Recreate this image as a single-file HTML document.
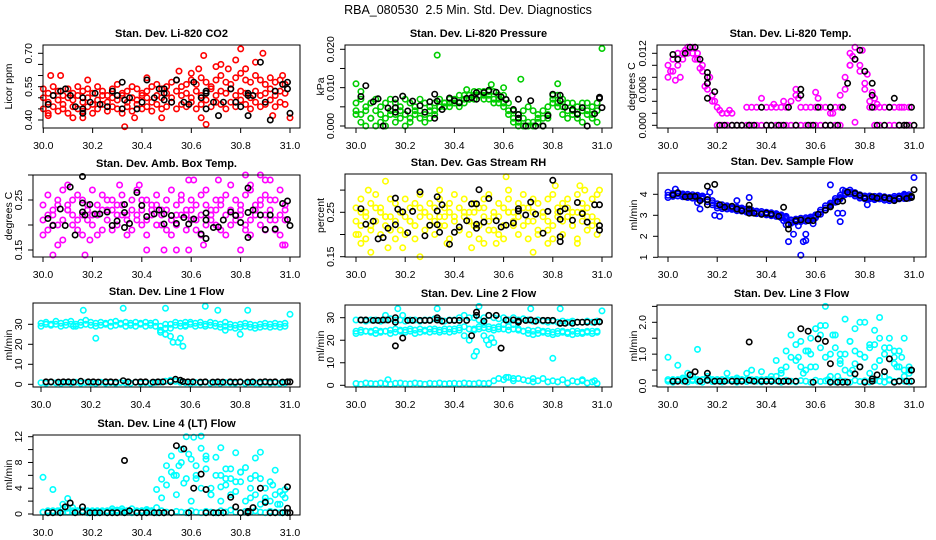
<!DOCTYPE html>
<html><head><meta charset="utf-8"><style>
html,body{margin:0;padding:0;background:#fff;}
svg{display:block;font-family:"Liberation Sans",Arial,sans-serif;}
</style></head><body>
<svg id="chart" width="936" height="540" viewBox="0 0 936 540" xmlns="http://www.w3.org/2000/svg">
<text x="468" y="14" text-anchor="middle" font-size="12.5">RBA_080530 &#160;2.5 Min. Std. Dev. Diagnostics</text>
</svg>
<script>
// shared sample times
const bandTimes = [30.00,30.02,30.04,30.06,30.08,30.10,30.12,30.14,30.16,30.18,30.20,30.22,30.24,30.26,30.28,30.30,30.32,30.34,30.36,30.38,30.40,30.42,30.44,30.46,30.48,30.50,30.52,30.54,30.56,30.58,30.60,30.62,30.64,30.66,30.68,30.70,30.72,30.74,30.76,30.78,30.80,30.82,30.84,30.86,30.88,30.90,30.92,30.94,30.96,30.98];
const blackTimes = [30.02,30.04,30.07,30.09,30.11,30.13,30.16,30.19,30.21,30.23,30.26,30.28,30.30,30.33,30.35,30.38,30.40,30.42,30.45,30.47,30.49,30.52,30.54,30.57,30.59,30.61,30.64,30.66,30.69,30.71,30.73,30.76,30.78,30.80,30.83,30.85,30.88,30.90,30.92,30.94,30.97,30.99];

// Panel 1 CO2
const co2A = [0.54,0.52,0.55,0.53,0.51,0.54,0.52,0.55,0.53,0.54,0.52,0.55,0.53,0.51,0.54,0.56,0.52,0.53,0.55,0.54,0.52,0.53,0.55,0.56,0.54,0.55,0.57,0.58,0.55,0.56,0.58,0.56,0.59,0.57,0.55,0.58,0.60,0.57,0.56,0.59,0.61,0.58,0.57,0.60,0.58,0.56,0.59,0.57,0.58,0.56];
const co2B = [0.50,0.48,0.51,0.49,0.47,0.50,0.49,0.51,0.48,0.50,0.47,0.49,0.51,0.48,0.50,0.49,0.51,0.48,0.50,0.49,0.51,0.50,0.48,0.51,0.50,0.52,0.50,0.53,0.51,0.52,0.50,0.53,0.51,0.52,0.54,0.51,0.53,0.52,0.54,0.51,0.53,0.52,0.50,0.53,0.51,0.52,0.54,0.51,0.53,0.52];
const co2C = [0.45,0.43,0.46,0.44,0.45,0.43,0.46,0.45,0.44,0.46,0.43,0.45,0.47,0.44,0.46,0.45,0.43,0.46,0.44,0.47,0.45,0.46,0.44,0.47,0.45,0.46,0.48,0.45,0.47,0.46,0.48,0.45,0.47,0.49,0.46,0.48,0.47,0.45,0.48,0.46,0.49,0.47,0.45,0.48,0.46,0.47,0.49,0.46,0.48,0.47];
const co2Out = [[30.02,0.42],[30.03,0.60],[30.07,0.60],[30.16,0.41],[30.18,0.58],[30.33,0.37],[30.37,0.41],[30.42,0.59],[30.48,0.41],[30.55,0.62],[30.60,0.61],[30.63,0.63],[30.65,0.69],[30.66,0.38],[30.70,0.64],[30.72,0.65],[30.75,0.63],[30.78,0.67],[30.80,0.72],[30.82,0.63],[30.86,0.66],[30.89,0.70],[30.93,0.42],[30.97,0.60],[31.0,0.41],[30.64,0.41],[30.12,0.41]];
const co2Black = [0.47,0.51,0.53,0.54,0.51,0.46,0.45,0.48,0.52,0.47,0.46,0.53,0.51,0.49,0.50,0.45,0.48,0.58,0.50,0.54,0.52,0.48,0.58,0.48,0.47,0.57,0.50,0.53,0.48,0.42,0.48,0.54,0.48,0.46,0.52,0.51,0.66,0.48,0.40,0.53,0.56,0.57];
const co2BlackX = [[30.16,0.43],[30.16,0.50],[30.32,0.57],[30.32,0.45],[30.49,0.49],[30.49,0.54],[30.66,0.45],[30.66,0.52],[30.83,0.42],[30.83,0.51],[30.99,0.54],[31.0,0.43]];

// Panel 2 Pressure
const presA = [0.006,0.007,0.005,0.006,0.007,0.005,0.006,0.007,0.006,0.005,0.007,0.006,0.005,0.007,0.006,0.005,0.006,0.007,0.006,0.007,0.007,0.008,0.008,0.008,0.009,0.009,0.009,0.009,0.009,0.008,0.008,0.006,0.004,0.003,0.004,0.005,0.004,0.003,0.004,0.005,0.008,0.008,0.007,0.006,0.006,0.005,0.006,0.006,0.005,0.006];
const presB = [0.004,0.003,0.004,0.002,0.004,0.003,0.002,0.004,0.003,0.004,0.003,0.002,0.004,0.004,0.003,0.002,0.004,0.005,0.005,0.006,0.006,0.006,0.007,0.007,0.008,0.008,0.008,0.008,0.007,0.007,0.006,0.004,0.002,0.001,0.002,0.001,0.001,0.002,0.002,0.003,0.007,0.006,0.005,0.004,0.004,0.003,0.004,0.004,0.003,0.004];
const presC = [0.003,0.001,0.000,0.002,0.000,0.001,0.000,0.003,0.001,0.002,0.000,0.001,0.003,0.002,0.001,0.004,0.003,0.005,0.006,0.005,0.006,0.005,0.006,0.007,0.007,0.008,0.007,0.007,0.006,0.006,0.005,0.003,0.001,0.000,0.000,0.000,0.000,0.001,0.000,0.002,0.006,0.005,0.003,0.002,0.003,0.002,0.001,0.003,0.002,0.001];
const presOut = [[30.0,0.011],[30.33,0.0185],[30.67,0.0122],[31.0,0.0202],[30.55,0.0108],[30.82,0.0110],[30.45,0.0095],[30.6,0.010],[30.02,0.009]];
const presBlack = [0.0077,0.0105,0.0063,0.0071,0.0000,0.0047,0.0070,0.0078,0.0039,0.0065,0.0053,0.0036,0.0063,0.0065,0.0043,0.0073,0.0066,0.0061,0.0072,0.0074,0.0070,0.0087,0.0093,0.0088,0.0076,0.0069,0.0043,0.0070,0.0000,0.0066,0.0000,0.0000,0.0027,0.0083,0.0066,0.0049,0.0043,0.0031,0.0048,0.0000,0.0032,0.0075];
const presBlackX = [[30.16,0.0036],[30.16,0.0048],[30.32,0.0083],[30.32,0.0020],[30.49,0.0087],[30.66,0.0030],[30.66,0.0020],[30.83,0.0080],[30.99,0.0072],[31.0,0.0048]];

// Panel 3 Temp
const tempHi = [0.010,0.011,0.012,0.012,0.013,0.013,0.012,0.010,0.007,0.005,0.003,0.002,0.002,0.002,null,null,0.003,0.003,0.003,null,0.003,0.003,0.003,0.003,0.003,0.004,0.005,0.003,0.003,0.003,0.003,0.003,0.003,0.002,0.003,0.005,0.008,0.012,0.013,0.010,0.007,0.004,0.003,0.003,0.003,0.003,0.003,0.003,0.003,0.003];
const tempLo = [0.008,0.009,0.010,0.011,0.012,0.012,0.011,0.009,0.006,0.004,0.000,0.000,0.000,0.000,0.000,0.000,0.000,0.000,0.000,0.000,0.000,0.000,0.000,0.000,0.000,0.000,0.000,0.000,0.000,0.000,0.000,0.000,0.000,0.000,0.000,0.000,0.006,0.010,0.011,0.009,0.006,0.003,0.000,0.000,null,0.000,0.000,0.000,0.000,0.000];
const tempOut = [[30.01,0.009],[30.03,0.0075],[30.05,0.008],[30.07,0.0125],[30.11,0.011],[30.13,0.0095],[30.15,0.0065],[30.17,0.008],[30.19,0.004],[30.21,0.0025],[30.25,0.0025],[30.38,0.0045],[30.43,0.0035],[30.47,0.004],[30.52,0.006],[30.53,0.0045],[30.60,0.0055],[30.61,0.0045],[30.67,0.002],[30.70,0.003],[30.74,0.010],[30.75,0.0115],[30.79,0.0125],[30.81,0.0085],[30.83,0.0055],[30.84,0.0045],[30.85,0.0035],[30.76,0.0005],[30.95,0.003]];
const tempBlack = [0.0118,0.0110,0.0120,0.0130,0.0130,0.0110,0.0088,0.0056,0.0000,0.0000,0.0000,0.0000,0.0000,0.0000,0.0000,0.0030,0.0000,0.0000,0.0000,0.0000,0.0030,0.0000,0.0060,0.0000,0.0000,0.0030,0.0000,0.0000,0.0000,0.0030,0.0070,0.0110,0.0125,0.0090,0.0030,0.0000,0.0000,0.0030,0.0045,0.0000,0.0000,0.0030];
const tempBlackX = [[30.16,0.0080],[30.16,0.0070],[30.16,0.0045],[30.33,0.0],[30.54,0.005],[30.66,0.003],[30.71,0.003],[30.83,0.007],[30.83,0.005],[30.96,0.0],[31.0,0.0]];

// Panel 4 Amb box temp
const ambA = [0.24,0.26,0.23,0.25,0.27,0.24,0.22,0.26,0.25,0.23,0.27,0.24,0.26,0.23,0.25,0.24,0.26,0.22,0.25,0.27,0.23,0.25,0.24,0.26,0.23,0.25,0.27,0.24,0.26,0.22,0.25,0.24,0.26,0.27,0.23,0.25,0.24,0.26,0.28,0.25,0.23,0.26,0.27,0.24,0.25,0.26,0.23,0.25,0.27,0.24];
const ambB = [0.21,0.19,0.22,0.20,0.21,0.23,0.20,0.19,0.22,0.21,0.20,0.22,0.19,0.21,0.23,0.20,0.22,0.21,0.19,0.22,0.20,0.21,0.23,0.20,0.22,0.19,0.21,0.20,0.22,0.23,0.21,0.19,0.22,0.20,0.21,0.23,0.19,0.22,0.20,0.21,0.22,0.19,0.21,0.23,0.20,0.22,0.21,0.19,0.22,0.21];
const ambC = [0.18,0.22,0.20,0.24,0.17,0.23,0.25,0.21,0.18,0.24,0.22,0.18,0.23,0.25,0.19,0.22,0.24,0.18,0.23,0.21,0.25,0.18,0.22,0.24,0.20,0.23,0.18,0.22,0.25,0.19,0.23,0.21,0.18,0.24,0.22,0.20,0.25,0.18,0.23,0.22,0.24,0.20,0.18,0.22,0.24,0.19,0.25,0.21,0.18,0.23];
const ambOut = [[30.04,0.14],[30.06,0.16],[30.10,0.28],[30.17,0.14],[30.19,0.17],[30.31,0.28],[30.39,0.28],[30.42,0.15],[30.49,0.15],[30.54,0.15],[30.59,0.15],[30.59,0.29],[30.61,0.29],[30.65,0.16],[30.71,0.29],[30.80,0.15],[30.82,0.30],[30.88,0.30],[30.90,0.29],[30.92,0.29],[30.98,0.16],[30.97,0.16],[30.84,0.28]];
const ambBlack = [0.213,0.199,0.232,0.199,0.276,0.180,0.244,0.241,0.222,0.222,0.226,0.199,0.208,0.225,0.203,0.265,0.239,0.217,0.222,0.230,0.202,0.219,0.203,0.215,0.202,0.212,0.182,0.224,0.195,0.196,0.210,0.226,0.219,0.205,0.225,0.230,0.220,0.191,0.220,0.192,0.243,0.248];
const ambBlackX = [[30.16,0.297],[30.16,0.226],[30.17,0.220],[30.33,0.241],[30.33,0.195],[30.49,0.222],[30.66,0.210],[30.66,0.173],[30.83,0.274],[30.83,0.175],[30.99,0.211],[31.0,0.199]];

// Panel 5 Gas stream RH
const rhA = [0.26,0.28,0.25,0.27,0.29,0.26,0.24,0.28,0.27,0.25,0.28,0.26,0.27,0.29,0.25,0.27,0.26,0.28,0.24,0.27,0.29,0.26,0.28,0.25,0.27,0.26,0.28,0.29,0.25,0.27,0.26,0.28,0.25,0.27,0.29,0.26,0.28,0.27,0.25,0.28,0.29,0.26,0.27,0.28,0.25,0.29,0.27,0.26,0.28,0.29];
const rhB = [0.23,0.22,0.24,0.21,0.23,0.25,0.22,0.24,0.23,0.21,0.24,0.23,0.22,0.24,0.25,0.22,0.23,0.24,0.22,0.25,0.23,0.21,0.24,0.23,0.25,0.22,0.24,0.23,0.21,0.24,0.22,0.25,0.23,0.24,0.22,0.23,0.25,0.21,0.24,0.23,0.22,0.25,0.23,0.24,0.22,0.25,0.23,0.24,0.22,0.23];
const rhC = [0.20,0.25,0.19,0.22,0.26,0.20,0.24,0.21,0.19,0.25,0.20,0.23,0.19,0.26,0.21,0.24,0.20,0.22,0.26,0.19,0.24,0.21,0.25,0.20,0.22,0.19,0.26,0.21,0.24,0.20,0.19,0.25,0.22,0.20,0.26,0.19,0.23,0.20,0.25,0.21,0.19,0.24,0.20,0.26,0.22,0.19,0.25,0.21,0.24,0.20];
const rhOut = [[30.01,0.20],[30.02,0.18],[30.05,0.30],[30.06,0.16],[30.12,0.32],[30.13,0.17],[30.19,0.17],[30.26,0.15],[30.34,0.30],[30.37,0.18],[30.47,0.17],[30.52,0.18],[30.57,0.18],[30.61,0.33],[30.62,0.30],[30.72,0.16],[30.78,0.18],[30.81,0.31],[30.91,0.31],[30.90,0.18],[30.99,0.30],[30.93,0.30]];
const rhBlack = [0.258,0.223,0.230,0.190,0.193,0.214,0.282,0.251,0.204,0.252,0.296,0.197,0.221,0.253,0.267,0.178,0.205,0.217,0.231,0.269,0.269,0.228,0.281,0.231,0.217,0.221,0.226,0.253,0.244,0.273,0.246,0.203,0.252,0.322,0.234,0.258,0.232,0.272,0.247,0.228,0.267,0.267];
const rhBlackX = [[30.16,0.222],[30.17,0.257],[30.33,0.285],[30.33,0.222],[30.34,0.205],[30.49,0.223],[30.49,0.214],[30.50,0.301],[30.66,0.258],[30.83,0.252],[30.83,0.195],[30.83,0.184],[30.99,0.220],[30.99,0.210]];

// Panel 6 Sample flow
const flowA = [3.95,3.98,4.02,3.95,3.92,3.90,3.88,3.85,3.75,3.60,3.45,3.40,3.38,3.35,3.30,3.28,3.22,3.18,3.12,3.10,3.08,3.05,3.02,2.95,2.88,2.70,2.75,2.78,2.80,2.85,2.95,3.15,3.35,3.50,3.70,3.85,4.05,4.10,4.00,3.90,3.85,3.85,3.82,3.85,3.80,3.78,3.82,3.85,3.88,3.90];
const flowB = [3.85,3.90,3.92,3.88,3.85,3.82,3.80,3.78,3.65,3.50,3.35,3.32,3.30,3.28,3.22,3.20,3.15,3.12,3.08,3.05,3.02,2.98,2.95,2.88,2.80,2.62,2.68,2.70,2.72,2.78,2.88,3.05,3.25,3.42,3.62,3.78,3.98,4.02,3.92,3.82,3.78,3.78,3.75,3.78,3.72,3.70,3.75,3.78,3.80,3.82];
const flowC = [4.10,4.05,4.08,4.02,4.00,3.98,3.95,3.92,3.88,3.70,3.55,3.50,3.45,3.42,3.38,3.35,3.30,3.25,3.20,3.18,3.15,3.12,3.08,3.02,2.95,2.78,2.82,2.86,2.88,2.92,3.02,3.25,3.45,3.58,3.80,3.95,4.15,4.20,4.08,3.98,3.92,3.92,3.90,3.92,3.88,3.85,3.90,3.92,3.95,3.98];
const flowOut = [[30.03,4.25],[30.12,3.6],[30.13,3.3],[30.17,4.1],[30.19,3.0],[30.21,2.95],[30.28,3.7],[30.33,3.85],[30.47,2.75],[30.48,2.55],[30.49,1.75],[30.51,2.1],[30.53,2.5],[30.54,1.1],[30.55,1.75],[30.56,2.1],[30.56,1.8],[30.59,2.6],[30.66,4.45],[30.69,3.1],[30.70,2.7],[30.71,3.1],[30.71,4.2],[30.81,3.5],[31.0,4.8],[30.96,4.0]];
const flowBlack = [3.97,4.07,3.88,3.90,3.90,3.70,3.75,4.47,3.50,3.38,3.43,3.30,3.22,3.30,3.10,3.05,3.10,3.05,2.95,3.38,2.55,2.75,2.78,2.75,2.75,3.05,3.25,3.40,3.65,3.68,4.10,4.05,3.95,3.82,3.88,3.82,3.85,3.80,3.70,3.80,3.80,3.85];
const flowBlackX = [[30.16,3.50],[30.16,4.38],[30.33,3.48],[30.33,3.10],[30.49,2.35],[30.66,3.42],[30.99,3.90],[31.0,4.22]];

// Panel 7 Line 1
const l1A = [30.5,31,30,31.5,30.5,31,31.5,30,31,32,31,30.5,31,30.5,31,31.5,30.5,31,30.5,31,30.5,31,30.5,31,29,28,30,31,30.5,31,31,30.5,31,30,31,30.5,30,31,30,29.5,30,30.5,30,29.5,30,30.5,30,30.5,30,30.5];
const l1B = [29,30,29.5,30,29,29.5,30,29,29.5,30,29.5,29,29.5,30,29,29.5,30,29,29.5,29,30,29,29.5,29,27,25,28,29.5,29,29.5,30,29,29.5,29,29.5,29,28.5,29,28.5,28,28.5,29,28.5,28,28.5,29,28.5,29,28.5,29];
const l1Low = [0.8,0.5,1,0.7,0.5,0.9,0.6,1,0.5,0.8,0.7,0.5,1,0.6,0.8,0.5,0.9,0.7,0.5,1,0.6,0.8,0.5,0.9,1,1.5,2,1.5,1,0.8,0.5,0.9,0.7,1,0.6,0.8,0.5,0.9,0.7,0.6,1,0.5,0.8,0.7,0.5,0.9,0.6,0.8,0.5,0.7];
const l1Out = [[30.13,29],[30.17,37],[30.22,23],[30.33,38],[30.48,26],[30.50,38],[30.50,25],[30.52,24],[30.53,21],[30.55,21],[30.56,23],[30.57,19],[30.58,29],[30.66,39],[30.71,37],[30.74,27],[30.80,25],[30.83,37],[31.0,35],[30.50,30]];
const l1Black = [1.2,1.2,1.1,1.2,1.2,1.1,1.5,1.2,1.2,1.1,1.2,1.2,1.1,1.8,1.2,1.1,1.2,1.2,1.1,1.2,1.2,1.3,2.5,1.4,1.2,1.2,1.1,1.2,1.1,1.2,1.1,1.2,1.1,1.2,1.1,1.2,1.1,1.3,1.1,1.2,1.1,1.2];
const l1BlackX = [[31.0,1.2],[30.56,2.0]];

// Panel 8 Line 2
const l2A = [29,29,28.5,29,29,28.5,29,29.5,29,29,28.5,29,29,28.5,29,29,29.5,29,28.5,29,29,30,31,30,30,29,30,31,30,29.5,30,29,30,29,29.5,29,28.5,29,28.5,28,28.5,28,28.5,28,28.5,28,28,28.5,28,28.5];
const l2B = [24,24.5,24,24,24.5,24,24,24.5,25,24.5,24.5,25,24.5,25,24.5,25,25,24.5,25,25,25,25.5,26,25,24.5,25,25.5,25,24.5,25,25,24.5,25,24.5,24,24.5,24,24.5,24,24,23.5,24,24,23.5,24,24,23.5,24,24,24];
const l2C = [23,23.5,24,23.5,23,23.5,24,23,23.5,24,23.5,24,23,23.5,24,23.5,24,23.5,24,23.5,24,24.5,22,20,25,26,27,26,25.5,26,27,26,27,25,24,23,22.5,23,23.5,23,22.5,23,23.5,23,22.5,23,23,23.5,23,23.5];
const l2Low = [0.8,0.5,1,0.8,0.6,1,0.8,0.5,0.9,1,0.7,0.6,1,0.8,0.5,0.9,0.7,1,0.6,0.8,0.9,0.7,1,0.8,0.6,1,0.8,0.9,2,3,2.5,3.5,2,3,2.5,2,1.5,2,3,1.5,2,1.5,2.5,1,2,1.5,2,1,1.5,0.8];
const l2Out = [[30.12,31],[30.13,2.5],[30.17,34],[30.19,31],[30.33,34],[30.48,13],[30.49,15],[30.50,35],[30.52,22],[30.53,20],[30.54,18],[30.55,21],[30.56,19],[30.58,26],[30.61,3.5],[30.64,3],[30.71,34],[30.72,3],[30.80,12],[30.83,34],[30.87,28],[31.0,33],[30.92,2.5],[30.97,2]];
const l2Black = [29,29,28.8,28.8,29,29,28,21,28.8,28.8,28.8,28.8,28.8,30,28.5,28.8,28.8,28.8,28.8,22,31,28.5,31,31,16.5,29,29,28.5,28.8,29,28.5,28.8,28.8,28.8,27.5,27.5,27.5,28,28,28,28,28.2];
const l2BlackX = [[30.16,30],[30.16,17.5],[30.33,29],[30.49,32.5],[30.66,28],[30.83,27.5],[30.99,28.2]];

// Panel 9 Line 3
const l3Low = [0.15,0.12,0.18,0.15,0.13,0.17,0.15,0.12,0.18,0.14,0.16,0.13,0.17,0.15,0.12,0.18,0.14,0.16,0.15,0.13,0.17,0.14,0.16,0.12,0.18,0.15,0.13,0.17,0.15,0.12,0.18,0.14,0.16,0.15,0.13,0.17,0.15,0.12,0.18,0.14,0.16,0.13,0.17,0.15,0.12,0.18,0.14,0.16,0.15,0.13];
const l3S1 = [0.9,0.2,0.65,0.2,0.4,0.2,1.15,0.2,0.3,0.2,0.2,0.2,0.4,0.2,0.2,0.2,0.4,0.5,0.2,0.45,0.2,0.2,0.3,0.5,0.6,0.9,1.3,0.6,1.1,1.5,1.8,1.2,1.9,1.0,1.6,0.8,0.5,1.4,0.7,1.0,2.0,1.2,0.6,1.5,0.3,1.2,0.9,0.6,0.5,0.4];
const l3S2 = [0.2,0.2,0.2,0.25,0.2,0.3,0.2,0.2,0.2,0.2,0.2,0.2,0.2,0.2,0.25,0.2,0.2,0.2,0.2,0.2,0.2,0.3,0.8,0.4,1.1,1.6,0.8,1.4,0.5,1.0,0.6,1.6,0.9,0.3,1.2,0.7,1.0,0.4,1.8,0.6,0.9,0.4,1.3,0.8,1.0,0.2,0.7,1.1,0.3,0.6];
const l3Out = [[30.64,2.5],[30.72,2.1],[30.78,2.0],[30.86,2.15],[30.84,1.75],[30.96,1.5],[30.55,0.4],[30.60,1.8],[30.62,1.9],[30.67,1.6],[30.70,1.0],[30.74,1.4],[30.76,1.1],[30.80,0.9],[30.82,1.3],[30.88,1.2],[30.90,1.5],[30.93,0.6],[30.98,0.5],[30.58,0.6],[30.53,0.9],[30.57,1.1],[30.65,0.2],[30.69,0.3],[30.75,0.5],[30.86,0.8],[30.92,1.1],[30.95,0.9]];
const l3Black = [0.15,0.15,0.15,0.35,0.45,0.15,0.4,0.15,0.15,0.15,0.15,0.15,0.15,1.38,0.15,0.15,0.15,0.15,0.15,0.15,0.15,0.15,1.8,1.72,0.12,1.48,1.4,0.12,0.12,0.12,0.12,0.38,0.6,0.12,0.22,0.35,0.45,0.85,0.12,0.15,0.15,0.5];
const l3BlackX = [[30.16,0.18],[30.33,0.18],[30.49,0.15],[30.66,0.7],[30.83,0.15],[30.99,0.15],[30.99,0.5]];

// Panel 10 Line 4
const l4Low = [0.3,0.2,0.5,0.3,0.8,0.9,1,0.5,0.3,0.2,0.3,0.2,0.3,0.2,0.5,0.6,0.8,0.3,0.2,0.3,0.5,0.7,0.3,0.2,0.5,0.3,0.2,0.4,0.3,0.2,0.5,0.3,0.2,0.4,0.3,0.2,0.5,0.3,0.6,0.3,0.2,0.4,0.3,0.5,0.3,0.2,0.4,0.3,0.2,0.3];
const l4S1 = [5.7,0.5,3.8,0.5,1.5,2.4,0.5,0.5,0.5,0.5,0.5,0.5,0.5,0.5,0.8,0.5,0.5,0.5,0.8,0.5,0.5,0.5,0.5,3.8,5.4,7.5,9,6,10,12,8.5,5.5,10.2,7,4,8.8,6,5.5,3,9.5,6.5,7.2,4,8.7,5.5,2.5,5,6.8,3.5,3.8];
const l4S2 = [0.3,0.3,0.3,0.3,0.3,0.3,0.3,0.3,0.3,0.3,0.3,0.3,0.3,0.3,0.3,0.3,0.3,0.3,0.3,0.3,0.3,0.3,0.5,1,2.5,4.5,6.5,3,8,5.5,2,7.5,4,9,3,6,2,4.5,7,3.5,5,2,5.5,3,1.5,4,2,3,1.5,2.5];
const l4Out = [[30.64,12.1],[30.61,11.9],[30.72,10.3],[30.59,9.3],[30.55,7.5],[30.62,6],[30.68,3],[30.72,4.2],[30.76,5.5],[30.80,6.5],[30.84,2.5],[30.88,9.6],[30.93,4.5],[30.97,3],[30.57,4.8],[30.66,8.5],[30.74,7],[30.78,5],[30.86,6],[30.90,2],[30.95,1.5],[30.53,6]];
const l4Black = [0.2,0.2,0.2,1.1,1.7,0.2,1.1,0.2,0.2,0.2,0.2,0.2,0.2,8.3,0.5,0.2,0.2,0.2,0.2,0.2,0.2,0.2,10.6,10.1,0.2,4,6.2,3.8,0.2,0.2,0.2,2.6,1.1,0.2,0.4,1,4,1.8,0.2,0.2,0.2,0.2];
const l4BlackX = [[30.16,0.3],[30.33,0.2],[30.49,0.2],[30.66,0.2],[30.83,0.2],[30.99,4.2],[30.99,0.9],[31.0,0.2]];

const xTicks = [30.0,30.2,30.4,30.6,30.8,31.0];
const xTickLabels = ["30.0","30.2","30.4","30.6","30.8","31.0"];

const panels = [
 {name:'co2',title:'Stan. Dev. Li-820 CO2',ylab:'Licor ppm',box:[43,45,300,128],xr:[43.3,290],yv:[0.40,0.70],yp:[120,53.3],ticks:[0.40,0.45,0.50,0.55,0.60,0.65,0.70],labs:[[0.40,'0.40'],[0.55,'0.55'],[0.70,'0.70']],labx:8,col:'#FF0000',bands:[co2A,co2B,co2C],out:co2Out,blk:co2Black,blkx:co2BlackX},
 {name:'pressure',title:'Stan. Dev. Li-820 Pressure',ylab:'kPa',box:[345,45,612,128],xr:[356,602],yv:[0,0.02],yp:[126,49.3],ticks:[0,0.005,0.01,0.015,0.02],labs:[[0,'0.000'],[0.01,'0.010'],[0.02,'0.020']],labx:320,col:'#00CD00',bands:[presA,presB,presC],out:presOut,blk:presBlack,blkx:presBlackX},
 {name:'temp',title:'Stan. Dev. Li-820 Temp.',ylab:'degrees C',box:[657,45,924,128],xr:[668,914],yv:[0,0.012],yp:[125.3,53.3],ticks:[0,0.002,0.004,0.006,0.008,0.01,0.012],labs:[[0,'0.000'],[0.006,'0.006'],[0.012,'0.012']],labx:631,col:'#FF00FF',bands:[tempHi,tempLo],out:tempOut,blk:tempBlack,blkx:tempBlackX},
 {name:'amb-temp',title:'Stan. Dev. Amb. Box Temp.',ylab:'degrees C',box:[33,175,300,257],xr:[43,290],yv:[0.15,0.25],yp:[250,200],ticks:[0.15,0.20,0.25,0.30],labs:[[0.15,'0.15'],[0.25,'0.25']],labx:8,col:'#FF00FF',bands:[ambA,ambB,ambC],out:ambOut,blk:ambBlack,blkx:ambBlackX},
 {name:'rh',title:'Stan. Dev. Gas Stream RH',ylab:'percent',box:[345,174,612,257],xr:[356,602],yv:[0.15,0.25],yp:[256.7,212.3],ticks:[0.15,0.20,0.25,0.30],labs:[[0.15,'0.15'],[0.25,'0.25']],labx:320,col:'#FFFF00',bands:[rhA,rhB,rhC],out:rhOut,blk:rhBlack,blkx:rhBlackX},
 {name:'sample-flow',title:'Stan. Dev. Sample Flow',ylab:'ml/min',box:[658,173,926,257],xr:[668,914],yv:[1,4],yp:[257.3,194.3],ticks:[1,2,3,4],labs:[[1,'1'],[2,'2'],[3,'3'],[4,'4']],labx:633,col:'#0000FF',bands:[flowA,flowB,flowC],out:flowOut,blk:flowBlack,blkx:flowBlackX},
 {name:'line1',title:'Stan. Dev. Line 1 Flow',ylab:'ml/min',box:[33,303,300,387],xr:[41,290],yv:[0,30],yp:[384.3,324.3],ticks:[0,10,20,30],labs:[[0,'0'],[10,'10'],[20,'20'],[30,'30']],labx:8,col:'#00FFFF',bands:[l1A,l1B,l1Low],out:l1Out,blk:l1Black,blkx:l1BlackX},
 {name:'line2',title:'Stan. Dev. Line 2 Flow',ylab:'ml/min',box:[345,305,612,387],xr:[356,602],yv:[0,30],yp:[385.3,317.7],ticks:[0,10,20,30],labs:[[0,'0'],[10,'10'],[20,'20'],[30,'30']],labx:320,col:'#00FFFF',bands:[l2A,l2B,l2C,l2Low],out:l2Out,blk:l2Black,blkx:l2BlackX},
 {name:'line3',title:'Stan. Dev. Line 3 Flow',ylab:'ml/min',box:[657,305,926,387],xr:[668,914],yv:[0,2],yp:[386,322.3],ticks:[0,0.5,1,1.5,2,2.5],labs:[[0,'0.0'],[1,'1.0'],[2,'2.0']],labx:633,col:'#00FFFF',bands:[l3Low,l3S1,l3S2],out:l3Out,blk:l3Black,blkx:l3BlackX},
 {name:'line4',title:'Stan. Dev. Line 4 (LT) Flow',ylab:'ml/min',box:[33,435,300,515],xr:[43,290],yv:[0,12],yp:[514,436.7],ticks:[0,2,4,6,8,10,12],labs:[[0,'0'],[4,'4'],[8,'8'],[12,'12']],labx:8,col:'#00FFFF',bands:[l4Low,l4S1,l4S2],out:l4Out,blk:l4Black,blkx:l4BlackX}
];

const svg = document.getElementById('chart');
const NS = 'http://www.w3.org/2000/svg';
function mk(tag, attrs, parent){
  const e = document.createElementNS(NS, tag);
  for (const k in attrs) e.setAttribute(k, attrs[k]);
  parent.appendChild(e);
  return e;
}
panels.forEach(p => {
  const g = mk('g', {}, svg);
  
  
  const [x0,y0,x1,y1] = p.box;
  const sx = v => p.xr[0] + (v - 30) * (p.xr[1] - p.xr[0]);
  const sy = v => p.yp[0] + (v - p.yv[0]) * (p.yp[1] - p.yp[0]) / (p.yv[1] - p.yv[0]);
  const t = mk('text', {x:(x0+x1)/2, y:y0-8, 'text-anchor':'middle', 'font-size':'11', 'font-weight':'bold'}, g);
  t.textContent = p.title;
  
  
  const yl = mk('text', {x:p.labx+4, y:(y0+y1)/2, 'text-anchor':'middle', 'font-size':'10.5', transform:`rotate(-90 ${p.labx+4} ${(y0+y1)/2})`}, g);
  yl.textContent = p.ylab;
  
  
  const pts = mk('g', {fill:'none', stroke:p.col, 'stroke-width':'1.6'}, g);
  
  
  const dot = (x, y, parent) => {
    if (y === null || y === undefined) return;
    const c = mk('circle', {cx:sx(x).toFixed(1), cy:sy(y).toFixed(1), r:'2.7'}, parent);
    
    
  };
  p.bands.forEach(b => b.forEach((v, i) => { if (i < bandTimes.length) dot(bandTimes[i], v, pts); }));
  p.out.forEach(d => dot(d[0], d[1], pts));
  const bk = mk('g', {fill:'none', stroke:'#000', 'stroke-width':'1.6'}, g);
  
  
  p.blk.forEach((v, i) => { if (i < blackTimes.length) dot(blackTimes[i], v, bk); });
  p.blkx.forEach(d => dot(d[0], d[1], bk));
  const r = mk('rect', {x:x0, y:y0, width:x1-x0, height:y1-y0, fill:'none', stroke:'#000', 'stroke-width':'1'}, g);
  
  
  xTicks.forEach((v, i) => {
    const x = sx(v);
    mk('line', {x1:x, y1:y1, x2:x, y2:y1+5, stroke:'#000'}, g);
    const tl = mk('text', {x:x, y:y1+21, 'text-anchor':'middle', 'font-size':'10.5'}, g);
    tl.textContent = xTickLabels[i];
    
    
  });
  p.ticks.forEach(v => {
    const y = sy(v);
    mk('line', {x1:x0-5, y1:y, x2:x0, y2:y, stroke:'#000'}, g);
  });
  p.labs.forEach(l => {
    const y = sy(l[0]);
    const lx = x0 - 11;
    const tl = mk('text', {x:lx, y:y, 'text-anchor':'middle', 'font-size':'10.5', transform:`rotate(-90 ${lx} ${y})`}, g);
    tl.textContent = l[1];
    
    
  });
});
</script>
</body></html>
